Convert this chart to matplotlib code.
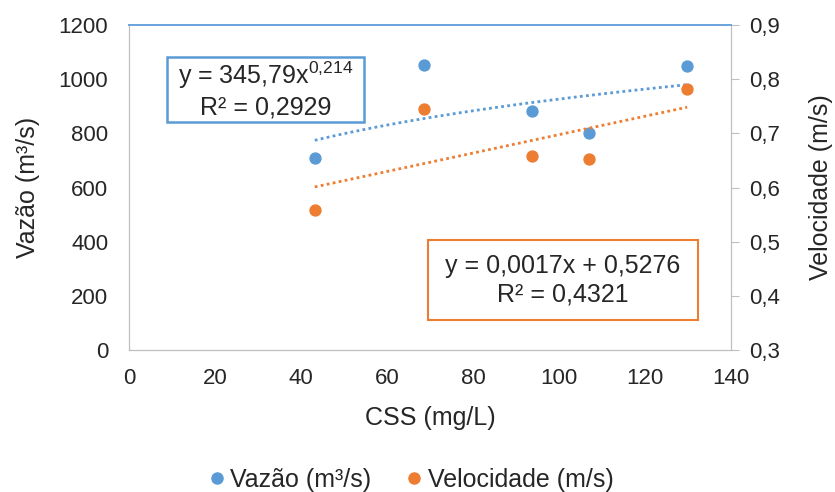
import numpy as np
import matplotlib
matplotlib.use("Agg")
import matplotlib.pyplot as plt
from matplotlib.lines import Line2D
from matplotlib.patches import Rectangle

plt.rcParams['font.family'] = ['Liberation Sans', 'DejaVu Sans']
plt.rcParams['mathtext.fontset'] = 'custom'
plt.rcParams['mathtext.rm'] = 'Liberation Sans'
plt.rcParams['mathtext.it'] = 'Liberation Sans'

css = [43.2, 68.7, 93.6, 107.0, 129.8]
vazao = [710, 1053, 882, 802, 1047]
velocidade = [0.558, 0.744, 0.658, 0.652, 0.781]

pow_a, pow_b = 345.79, 0.214
lin_m, lin_c = 0.0017, 0.5276

blue = '#5B9BD5'
orange = '#ED7D31'
grey = '#BFBFBF'
txt = '#262626'

fig = plt.figure(figsize=(8.35, 4.92), dpi=100)
ax = fig.add_axes([0.1545, 0.2886, 0.721, 0.6606])
ax2 = ax.twinx()

ax.set_xlim(0, 140)
ax.set_ylim(0, 1200)
ax2.set_ylim(0.3, 0.9)
ax.set_xticks(np.arange(0, 141, 20))
ax.set_yticks(np.arange(0, 1201, 200))
ax2.set_yticks(np.arange(0.3, 0.91, 0.1))
ax2.set_yticklabels([f"{v:.1f}".replace('.', ',') for v in np.arange(0.3, 0.91, 0.1)])

xs = np.linspace(min(css), max(css), 100)
ax.plot(xs, pow_a * xs ** pow_b, color=blue, lw=2, ls=(0, (1, 1.2)))
ax2.plot(xs, lin_m * xs + lin_c, color=orange, lw=2, ls=(0, (1, 1.2)))
ax.scatter(css, vazao, s=62, color=blue, zorder=3)
ax2.scatter(css, velocidade, s=62, color=orange, zorder=3)

for a in (ax, ax2):
    for s in a.spines.values():
        s.set_color(grey)
    a.spines['top'].set_color('#6AA5DB')
    a.spines['top'].set_linewidth(1.3)
ax.tick_params(axis='y', length=0, labelsize=16, colors=txt, pad=15)
ax.tick_params(axis='x', length=0, labelsize=16, colors=txt, pad=13)
ax2.tick_params(axis='y', length=6, color=grey, labelsize=16, labelcolor=txt, pad=7)

ax.set_ylabel('Vazão (m³/s)', fontsize=18, color=txt, labelpad=13)
ax2.set_ylabel('Velocidade (m/s)', fontsize=18, color=txt, labelpad=21)
ax.set_xlabel('CSS (mg/L)', fontsize=18, color=txt, labelpad=12)

ax.add_patch(Rectangle((0.0631, 0.7015), 0.327, 0.2, transform=ax.transAxes,
                       fc='white', ec=blue, lw=1.8, zorder=5))
ax.text(0.2267, 0.8015, 'y = 345,79x$^{0{,}214}$\nR² = 0,2929', transform=ax.transAxes,
        ha='center', va='center', fontsize=18, color=txt, linespacing=1.2, zorder=6)
ax2.add_patch(Rectangle((0.4967, 0.092), 0.4483, 0.246, transform=ax.transAxes,
                        fc='white', ec=orange, lw=1.5, zorder=5))
ax2.text(0.721, 0.215, 'y = 0,0017x + 0,5276\nR² = 0,4321', transform=ax.transAxes,
         ha='center', va='center', fontsize=18, color=txt, linespacing=1.2, zorder=6)

handles = [Line2D([], [], marker='o', ls='', color=blue, markersize=8),
           Line2D([], [], marker='o', ls='', color=orange, markersize=8)]
fig.legend(handles, ['Vazão (m³/s)', 'Velocidade (m/s)'], loc='center',
           bbox_to_anchor=(0.482, 0.025), ncol=2, frameon=False, fontsize=18,
           handletextpad=-0.45, columnspacing=0.7, labelcolor=txt)

fig.savefig('out.png', dpi=100)
